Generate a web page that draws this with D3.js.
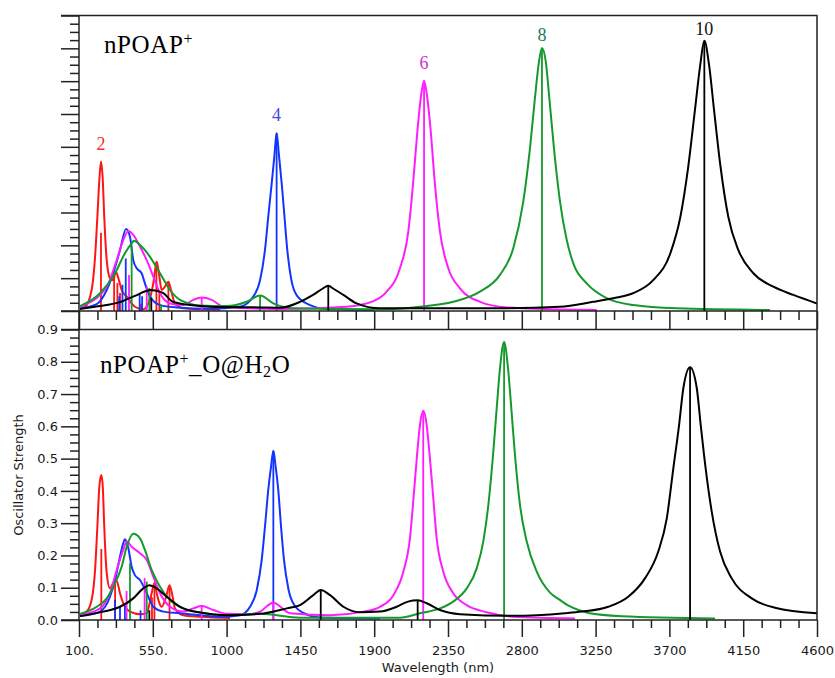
<!DOCTYPE html>
<html>
<head>
<meta charset="utf-8">
<script src="https://cdn.jsdelivr.net/npm/d3@7"></script>
<style>
  html, body { margin: 0; padding: 0; background: #fff; }
  svg { display: block; }
</style>
</head>
<body>
<svg id="chart" width="835" height="678"></svg>
<script>
// ---- axis values ----
const wavelengthTicks = [100, 550, 1000, 1450, 1900, 2350, 2800, 3250, 3700, 4150, 4600];
const wavelengthTickLabels = ["100.", "550.", "1000", "1450", "1900", "2350", "2800", "3250", "3700", "4150", "4600"];
const strengthTicks = [0, 0.1, 0.2, 0.3, 0.4, 0.5, 0.6, 0.7, 0.8, 0.9];
const strengthTickLabels = ["0.0", "0.1", "0.2", "0.3", "0.4", "0.5", "0.6", "0.7", "0.8", "0.9"];
const seriesNames = ["2", "4", "6", "8", "10"];

// ---- nPOAP+ (gas phase): broadened spectra, [wavelength nm, strength] ----
const gasCurve2 = [[106,0.008],[137,0.013],[177,0.064],[198,0.165],[212,0.287],[224,0.399],[234,0.455],[245,0.399],[254,0.287],[269,0.155],[289,0.100],[307,0.094],[326,0.119],[340,0.100],[360,0.064],[391,0.044],[441,0.013],[492,0.005],[523,0.023],[553,0.084],[574,0.150],[590,0.105],[604,0.064],[624,0.074],[645,0.089],[661,0.064],[685,0.023],[736,0.008],[838,0.005],[960,0.004]];
const gasCurve4 = [[106,0.008],[208,0.021],[269,0.064],[309,0.115],[350,0.186],[387,0.250],[411,0.226],[431,0.155],[452,0.130],[482,0.115],[502,0.084],[533,0.044],[594,0.018],[696,0.011],[899,0.007],[1082,0.013],[1163,0.044],[1204,0.094],[1234,0.186],[1254,0.287],[1275,0.389],[1291,0.470],[1305,0.542],[1320,0.470],[1336,0.389],[1353,0.287],[1370,0.186],[1395,0.094],[1430,0.046],[1509,0.018],[1610,0.006],[1900,0.003]];
const gasCurve6 = [[106,0.013],[269,0.074],[330,0.155],[370,0.216],[401,0.244],[431,0.232],[472,0.196],[513,0.155],[553,0.105],[594,0.054],[655,0.023],[736,0.018],[797,0.034],[848,0.041],[909,0.034],[980,0.013],[1326,0.006],[1732,0.013],[1895,0.030],[1976,0.059],[2057,0.130],[2108,0.242],[2138,0.394],[2163,0.546],[2184,0.648],[2204,0.701],[2224,0.648],[2245,0.546],[2269,0.394],[2301,0.242],[2352,0.130],[2423,0.069],[2545,0.028],[2708,0.011],[2952,0.006],[3257,0.003]];
const gasCurve8 = [[106,0.015],[228,0.054],[320,0.115],[380,0.176],[421,0.206],[435,0.214],[472,0.201],[533,0.165],[594,0.115],[655,0.064],[716,0.034],[838,0.017],[1001,0.015],[1123,0.028],[1204,0.047],[1285,0.023],[1407,0.008],[1935,0.005],[2179,0.013],[2382,0.028],[2545,0.059],[2667,0.110],[2748,0.191],[2809,0.333],[2850,0.496],[2880,0.648],[2905,0.760],[2923,0.801],[2946,0.760],[2968,0.648],[2996,0.496],[3033,0.333],[3074,0.216],[3114,0.145],[3196,0.084],[3318,0.039],[3480,0.018],[3745,0.008],[4313,0.003]];
const gasCurve10 = [[106,0.006],[228,0.015],[350,0.027],[441,0.046],[537,0.064],[612,0.055],[673,0.028],[777,0.018],[899,0.013],[1204,0.011],[1326,0.010],[1448,0.028],[1527,0.049],[1582,0.067],[1620,0.077],[1654,0.067],[1712,0.049],[1793,0.023],[1935,0.008],[2545,0.008],[3033,0.013],[3234,0.028],[3358,0.039],[3478,0.054],[3601,0.094],[3706,0.176],[3767,0.287],[3815,0.440],[3856,0.613],[3887,0.745],[3913,0.823],[3943,0.745],[3972,0.613],[4009,0.450],[4059,0.287],[4120,0.186],[4212,0.115],[4334,0.074],[4456,0.049],[4600,0.023]];

// ---- nPOAP+ (gas phase): transitions, [wavelength nm, oscillator strength] ----
const gasSticks2 = [[234,0.238],[314,0.120],[334,0.085],[350,0.055],[478,0.022],[572,0.150],[590,0.060],[645,0.088]];
const gasSticks4 = [[345,0.045],[365,0.080],[385,0.160],[470,0.055],[485,0.045],[1305,0.542]];
const gasSticks6 = [[405,0.110],[513,0.074],[848,0.041],[2204,0.701]];
const gasSticks8 = [[421,0.196],[529,0.070],[600,0.020],[1204,0.047],[2923,0.801]];
const gasSticks10 = [[541,0.040],[1620,0.077],[3913,0.823]];

// ---- nPOAP+_O@H2O (water): broadened spectra ----
const waterCurve2 = [[106,0.015],[147,0.026],[177,0.062],[198,0.155],[212,0.289],[224,0.413],[236,0.449],[245,0.413],[254,0.289],[269,0.145],[289,0.098],[309,0.115],[330,0.121],[350,0.083],[370,0.052],[411,0.026],[472,0.018],[513,0.021],[543,0.083],[560,0.115],[574,0.083],[590,0.052],[604,0.041],[631,0.072],[652,0.108],[671,0.072],[685,0.036],[736,0.015],[838,0.010],[1021,0.006]];
const waterCurve4 = [[106,0.012],[228,0.026],[289,0.072],[320,0.124],[350,0.196],[370,0.238],[380,0.250],[401,0.222],[421,0.165],[441,0.139],[472,0.124],[513,0.083],[553,0.041],[614,0.026],[716,0.021],[838,0.015],[960,0.010],[1082,0.015],[1143,0.041],[1184,0.093],[1214,0.186],[1234,0.289],[1254,0.403],[1271,0.475],[1285,0.524],[1299,0.475],[1315,0.403],[1332,0.289],[1350,0.186],[1378,0.093],[1420,0.041],[1468,0.022],[1570,0.008],[1935,0.005]];
const waterCurve6 = [[106,0.015],[228,0.036],[289,0.083],[330,0.155],[370,0.217],[391,0.243],[421,0.227],[472,0.207],[513,0.186],[553,0.134],[594,0.083],[655,0.041],[736,0.026],[797,0.036],[848,0.043],[919,0.031],[1001,0.019],[1123,0.018],[1204,0.026],[1254,0.046],[1285,0.054],[1315,0.046],[1387,0.021],[1631,0.015],[1834,0.026],[1935,0.041],[2017,0.077],[2078,0.150],[2118,0.253],[2143,0.398],[2163,0.522],[2179,0.604],[2199,0.648],[2220,0.604],[2236,0.522],[2257,0.398],[2281,0.253],[2321,0.150],[2382,0.083],[2464,0.046],[2586,0.024],[2748,0.010],[3124,0.005]];
const waterCurve8 = [[106,0.019],[208,0.041],[269,0.067],[320,0.114],[360,0.165],[391,0.227],[431,0.267],[472,0.253],[502,0.217],[543,0.155],[594,0.103],[655,0.062],[736,0.036],[838,0.023],[1001,0.015],[1204,0.019],[1448,0.007],[2057,0.007],[2179,0.021],[2301,0.036],[2382,0.057],[2464,0.098],[2525,0.160],[2565,0.243],[2596,0.356],[2623,0.501],[2647,0.656],[2667,0.780],[2692,0.861],[2716,0.780],[2736,0.656],[2760,0.501],[2789,0.356],[2830,0.243],[2891,0.150],[2972,0.085],[3030,0.063],[3082,0.045],[3150,0.030],[3206,0.022],[3409,0.012],[3978,0.005]];
const waterCurve10 = [[106,0.012],[248,0.026],[350,0.041],[431,0.067],[492,0.098],[529,0.108],[574,0.098],[635,0.072],[716,0.041],[838,0.023],[1001,0.015],[1204,0.019],[1367,0.036],[1448,0.046],[1529,0.077],[1574,0.093],[1631,0.077],[1712,0.041],[1813,0.024],[1935,0.026],[2037,0.041],[2106,0.057],[2165,0.061],[2220,0.052],[2301,0.031],[2423,0.018],[2748,0.013],[3063,0.021],[3165,0.026],[3327,0.041],[3449,0.072],[3551,0.129],[3632,0.212],[3684,0.315],[3724,0.470],[3759,0.604],[3785,0.718],[3826,0.783],[3867,0.718],[3891,0.604],[3921,0.470],[3958,0.336],[4009,0.212],[4080,0.129],[4202,0.067],[4344,0.038],[4600,0.021]];

// ---- nPOAP+_O@H2O (water): transitions ----
const waterSticks2 = [[236,0.220],[320,0.120],[545,0.070],[560,0.110],[652,0.100]];
const waterSticks4 = [[320,0.062],[350,0.040],[380,0.043],[475,0.030],[1285,0.524]];
const waterSticks6 = [[390,0.090],[500,0.130],[848,0.043],[1285,0.054],[2199,0.648]];
const waterSticks8 = [[411,0.176],[513,0.119],[2692,0.861]];
const waterSticks10 = [[529,0.030],[1574,0.093],[2165,0.061],[3826,0.783]];

// ---- drawing ----
const colors = ["#ff1414", "#1234ff", "#ff1cff", "#14992c", "#000000"];
const labelColors = ["#ff2a2a", "#4848e0", "#cc35cc", "#1f7a5c", "#111111"];
const labelNudge = [12, 12, 12, 7, 6];

const plotLeft = 79, plotRight = 817;
const gasTop = 15.5, gasBase = 311, waterTop = 329.5, waterBase = 620;
const svg = d3.select("#chart");

const x = d3.scaleLinear().domain([100, 4600]).range([plotLeft, plotRight]);
const yGas = d3.scaleLinear().domain([0, 0.9]).range([gasBase, gasTop]);
const yWater = d3.scaleLinear().domain([0, 0.9]).range([waterBase, waterTop]);

const xMinor = d3.range(0, 41).map(i => 100 + 112.5 * i).filter(v => v < 4600 && (v - 100) % 450 !== 0);
const yMinor = d3.range(0, 37).map(i => +(i * 0.025).toFixed(3)).filter(v => v < 0.9 && Math.round(v * 1000) % 100 !== 0);

const axisColor = "#222";
function styleAxis(g) {
  g.select(".domain").remove();
  g.selectAll(".tick line").attr("stroke", axisColor).attr("stroke-width", 1.5);
  g.selectAll(".tick text").attr("fill", "#1a1a1a").attr("font-family", "DejaVu Sans, sans-serif").attr("font-size", 13);
}

// clip regions for each panel
const defs = svg.append("defs");
defs.append("clipPath").attr("id", "clipGas").append("rect")
  .attr("x", plotLeft).attr("y", gasTop).attr("width", plotRight - plotLeft).attr("height", gasBase - gasTop);
defs.append("clipPath").attr("id", "clipWater").append("rect")
  .attr("x", plotLeft).attr("y", waterTop).attr("width", plotRight - plotLeft).attr("height", waterBase - waterTop);

function drawPanel(y, curves, sticks, clipId) {
  const g = svg.append("g").attr("clip-path", `url(#${clipId})`);
  const line = d3.line().x(d => x(d[0])).y(d => y(d[1])).curve(d3.curveMonotoneX);
  curves.forEach((c, i) => {
    g.append("g").selectAll("line").data(sticks[i]).join("line")
      .attr("x1", d => x(d[0])).attr("x2", d => x(d[0]))
      .attr("y1", y(0)).attr("y2", d => y(d[1]))
      .attr("stroke", colors[i]).attr("stroke-width", 1.8);
    g.append("path").datum(c).attr("d", line)
      .attr("fill", "none").attr("stroke", colors[i]).attr("stroke-width", 2)
      .attr("stroke-linejoin", "round");
  });
}

drawPanel(yGas, [gasCurve2, gasCurve4, gasCurve6, gasCurve8, gasCurve10],
  [gasSticks2, gasSticks4, gasSticks6, gasSticks8, gasSticks10], "clipGas");
drawPanel(yWater, [waterCurve2, waterCurve4, waterCurve6, waterCurve8, waterCurve10],
  [waterSticks2, waterSticks4, waterSticks6, waterSticks8, waterSticks10], "clipWater");

// series labels above the main peaks of the gas panel
const gasCurves = [gasCurve2, gasCurve4, gasCurve6, gasCurve8, gasCurve10];
seriesNames.forEach((name, i) => {
  const peak = gasCurves[i].reduce((a, b) => (b[1] > a[1] ? b : a));
  svg.append("text")
    .attr("x", x(peak[0])).attr("y", yGas(peak[1]) - labelNudge[i])
    .attr("text-anchor", "middle")
    .attr("font-family", "Liberation Serif, Times New Roman, serif")
    .attr("font-size", 18).attr("fill", labelColors[i])
    .text(name);
});

// ---- axes ----
// gas panel: ticks hanging below its baseline into the gap
svg.append("g").attr("transform", `translate(0,${gasBase})`)
  .call(d3.axisBottom(x).tickValues(wavelengthTicks).tickSize(waterTop - gasBase).tickFormat("")).call(styleAxis);
svg.append("g").attr("transform", `translate(0,${gasBase})`)
  .call(d3.axisBottom(x).tickValues(xMinor).tickSize(9).tickFormat("")).call(styleAxis);
svg.append("g").attr("transform", `translate(${plotLeft},0)`)
  .call(d3.axisLeft(yGas).tickValues(strengthTicks).tickSize(18).tickFormat("")).call(styleAxis);
svg.append("g").attr("transform", `translate(${plotLeft},0)`)
  .call(d3.axisLeft(yGas).tickValues(yMinor).tickSize(9).tickFormat("")).call(styleAxis);

// water panel
svg.append("g").attr("transform", `translate(0,${waterBase})`)
  .call(d3.axisBottom(x).tickValues(wavelengthTicks).tickSize(17).tickPadding(9)
    .tickFormat((d, i) => wavelengthTickLabels[i])).call(styleAxis);
svg.append("g").attr("transform", `translate(0,${waterBase})`)
  .call(d3.axisBottom(x).tickValues(xMinor).tickSize(8).tickFormat("")).call(styleAxis);
svg.append("g").attr("transform", `translate(${plotLeft},0)`)
  .call(d3.axisLeft(yWater).tickValues(strengthTicks).tickSize(18).tickPadding(3)
    .tickFormat((d, i) => strengthTickLabels[i])).call(styleAxis);
svg.append("g").attr("transform", `translate(${plotLeft},0)`)
  .call(d3.axisLeft(yWater).tickValues(yMinor).tickSize(9).tickFormat("")).call(styleAxis);

// frames
const frame = svg.append("g").attr("stroke", axisColor).attr("stroke-width", 1.5).attr("fill", "none");
frame.append("path").attr("d", `M61,${gasTop}H${plotRight}V${waterBase}`);
frame.append("path").attr("d", `M${plotLeft},${gasTop}V${waterBase}`);
frame.append("path").attr("d", `M61,${gasBase}H${plotRight}`);
frame.append("path").attr("d", `M61,${waterTop}H${plotRight}`);
frame.append("path").attr("d", `M61,${waterBase}H${plotRight}`);

// panel titles
const titleFont = "Liberation Serif, Times New Roman, serif";
const t1 = svg.append("text").attr("x", 104).attr("y", 53)
  .attr("font-family", titleFont).attr("font-size", 25).attr("letter-spacing", 0.6).attr("fill", "#000");
t1.append("tspan").text("nPOAP");
t1.append("tspan").attr("dy", -9).attr("font-size", 16).text("+");

const t2 = svg.append("text").attr("x", 100).attr("y", 373)
  .attr("font-family", titleFont).attr("font-size", 25).attr("letter-spacing", 0.6).attr("fill", "#000");
t2.append("tspan").text("nPOAP");
t2.append("tspan").attr("dy", -9).attr("font-size", 16).text("+");
t2.append("tspan").attr("dy", 9).text("_O@H");
t2.append("tspan").attr("dy", 4).attr("font-size", 16).text("2");
t2.append("tspan").attr("dy", -4).text("O");

// axis titles
svg.append("text").attr("x", 438).attr("y", 672).attr("text-anchor", "middle")
  .attr("font-family", "DejaVu Sans, sans-serif").attr("font-size", 13).attr("fill", "#1a1a1a")
  .text("Wavelength (nm)");
svg.append("text").attr("transform", "translate(23,475) rotate(-90)").attr("text-anchor", "middle")
  .attr("font-family", "DejaVu Sans, sans-serif").attr("font-size", 13).attr("fill", "#1a1a1a")
  .text("Oscillator Strength");
</script>
</body>
</html>
